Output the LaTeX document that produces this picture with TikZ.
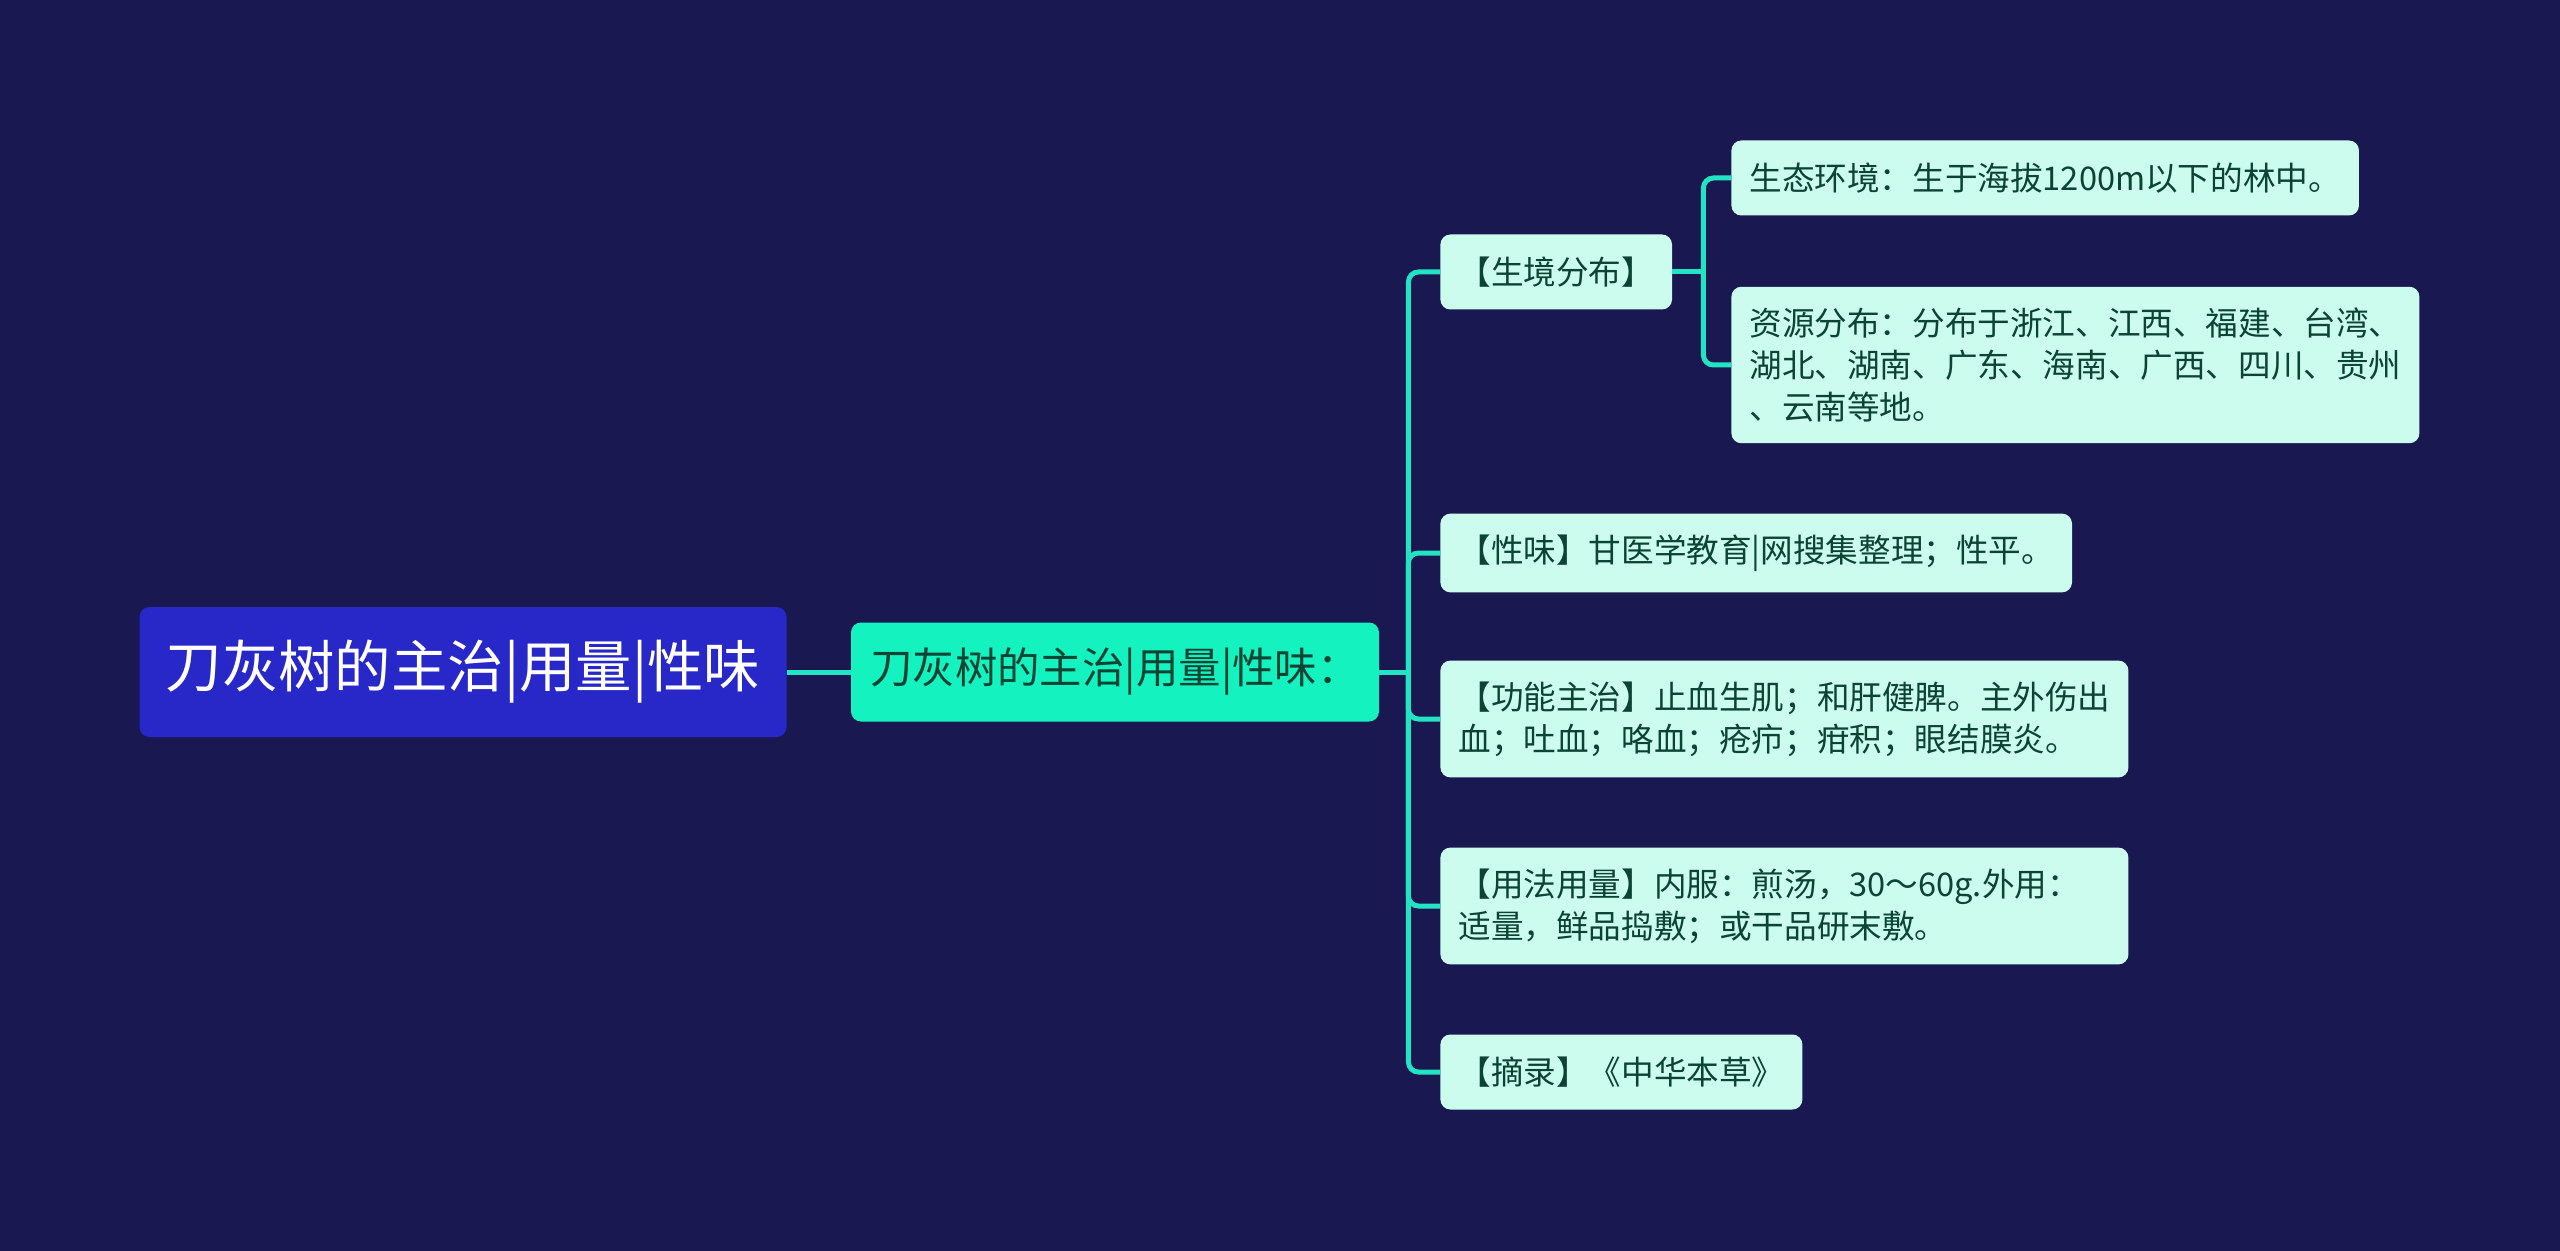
\documentclass[tikz,border=0pt]{standalone}
\usepackage{fontspec}
\setmainfont{Noto Sans CJK SC}
\usetikzlibrary{positioning,calc}
\definecolor{bgnavy}{HTML}{1A1850}
\definecolor{rootblue}{HTML}{2828C8}
\definecolor{topicaqua}{HTML}{14F2C0}
\definecolor{leafmint}{HTML}{CCFCEE}
\definecolor{inkgreen}{HTML}{0C4434}
\definecolor{linkteal}{HTML}{22E4C4}

\begin{document}
\begin{tikzpicture}[x=0.5pt, y=-0.5pt,
    root/.style={fill=rootblue, rounded corners=5pt, minimum width=323.5pt, minimum height=65pt, text=white, font=\fontsize{28.2}{33}\selectfont, inner sep=0pt},
    topic/.style={fill=topicaqua, rounded corners=5pt, minimum width=264pt, minimum height=49.5pt, text=inkgreen, font=\fontsize{21.2}{25}\selectfont, inner sep=0pt},
    leaf/.style={fill=leafmint, rounded corners=5pt, anchor=west, align=left, text=inkgreen, font=\fontsize{16.3}{21}\selectfont, inner xsep=9pt, inner ysep=10.5pt, minimum height=37.5pt},
    wideleaf/.style={leaf, text width=326pt},
    link/.style={draw=linkteal, line width=2.5pt, rounded corners=5pt}
]
\fill[bgnavy] (0,0) rectangle (2560,1251);

\node[root] (root) at (463,672) {刀灰树的主治|用量|性味};
\node[topic] (topic) at (1115,672) {刀灰树的主治|用量|性味：};

\node[leaf] (habitat) at (1440,272) {【生境分布】};
\node[leaf] (eco) at (1731,178) {生态环境：生于海拔1200m以下的林中。};
\node[wideleaf] (res) at (1731,365) {资源分布：分布于浙江、江西、福建、台湾、\\湖北、湖南、广东、海南、广西、四川、贵州\\、云南等地。};
\node[leaf] (taste) at (1440,553) {【性味】甘医学教育|网搜集整理；性平。};
\node[wideleaf] (func) at (1440,719) {【功能主治】止血生肌；和肝健脾。主外伤出\\血；吐血；咯血；疮疖；疳积；眼结膜炎。};
\node[wideleaf] (usage) at (1440,906) {【用法用量】内服：煎汤，30～60g.外用：\\适量，鲜品捣敷；或干品研末敷。};
\node[leaf] (src) at (1440,1072) {【摘录】《中华本草》};

% connectors
\draw[link] (root) -- (topic);
\coordinate (hub) at ($(topic.east)+(29,0)$);
\draw[link] (topic.east) -- (hub);
\foreach \c in {habitat,taste,func,usage,src}
    \draw[link] (hub) |- (\c.west);
\coordinate (subhub) at ($(habitat.east)+(31,0)$);
\draw[link] (habitat.east) -- (subhub);
\foreach \c in {eco,res}
    \draw[link] (subhub) |- (\c.west);
\end{tikzpicture}
\end{document}
